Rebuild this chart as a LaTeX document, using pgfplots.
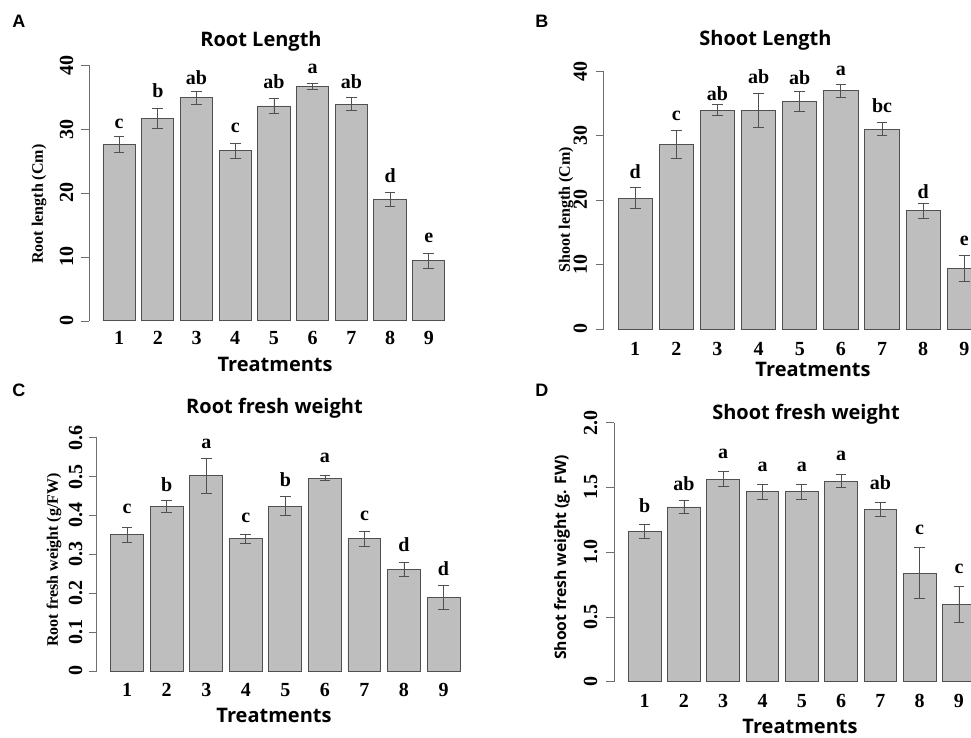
\documentclass[border=0pt]{standalone}
\usepackage{pgfplots}
\pgfplotsset{compat=1.18}
\usepackage{fontspec}
\setmainfont{Liberation Serif}
\newfontfamily\osans{Open Sans}
\newfontfamily\lsans{Liberation Sans}
\definecolor{barfill}{RGB}{190,190,190}
\definecolor{baredge}{RGB}{80,80,80}
\definecolor{axgray}{RGB}{110,110,110}
\pgfplotsset{
  panel/.style={
    scale only axis,
    xmin=0.23, xmax=9.77,
    axis x line*=bottom, axis y line*=left,
    x axis line style={draw=none}, y axis line style={draw=none},
    xtick={1,2,3,4,5,6,7,8,9},
    xticklabels={1,2,3,4,5,6,7,8,9},
    xtick style={draw=none},
    ytick style={axgray, line width=0.6pt},
    tick align=outside, major tick length=6pt,
    xticklabel style={font=\fontsize{15}{17}\selectfont\bfseries, anchor=base},
    clip=false,
    title style={font=\osans\bfseries\fontsize{15}{18}\selectfont, anchor=base, yshift=-6pt},
    xlabel style={font=\osans\bfseries\fontsize{15}{18}\selectfont, anchor=base},
    ylabel style={font=\fontsize{12}{14}\selectfont\bfseries, anchor=base},
    xlabel={Treatments},
  },
  bars/.style={ybar, bar width=0.8333, fill=barfill, draw=baredge, line width=0.7pt,
    error bars/.cd, y dir=both, y explicit,
    error bar style={line width=0.6pt, color=baredge},
    error mark options={rotate=90, line width=0.6pt, color=baredge, mark size=4pt}},
  letters/.style={draw=none, nodes near coords, point meta=explicit symbolic,
    nodes near coords style={anchor=base, inner sep=0pt, font=\fontsize{15}{17}\selectfont\bfseries}},
}
\begin{document}
\begin{tikzpicture}
\begin{scope}
\clip (0pt,0pt) rectangle (728.25pt,553.5pt);

% Panel letters
\node[anchor=base west, inner sep=0pt, font=\lsans\bfseries\fontsize{13.5}{16}\selectfont] at (9pt,532.5pt) {A};
\node[anchor=base west, inner sep=0pt, font=\lsans\bfseries\fontsize{13.5}{16}\selectfont] at (401.25pt,532.5pt) {B};
\node[anchor=base west, inner sep=0pt, font=\lsans\bfseries\fontsize{13.5}{16}\selectfont] at (9pt,255.75pt) {C};
\node[anchor=base west, inner sep=0pt, font=\lsans\bfseries\fontsize{13.5}{16}\selectfont] at (401.25pt,255.75pt) {D};

% ---------------- A ----------------
\begin{axis}[panel,
  at={(66.975pt,305.1pt)}, anchor=south west,
  width=276.975pt, height=207.3pt,
  ymin=-1.6, ymax=41.6,
  ytick={0,10,20,30,40}, yticklabels={0,10,20,30,40},
  xticklabel style={yshift=-4.35pt},
  yticklabel style={xshift=-6.2pt, rotate=90, anchor=base, font=\fontsize{15}{17}\selectfont\bfseries},
  title={Root Length}, title style={at={(axis description cs:0.465,1.0318)}},
  xlabel style={at={(axis description cs:0.503,-0.1476)}},
  ylabel={Root length (Cm)}, ylabel style={at={(axis description cs:-0.1254,0.460)}},
]
\addplot[bars] coordinates {
 (1,27.6) +- (0,1.2) (2,31.7) +- (0,1.55) (3,34.9) +- (0,1.05)
 (4,26.6) +- (0,1.15) (5,33.6) +- (0,1.15) (6,36.7) +- (0,0.5)
 (7,33.9) +- (0,1.0) (8,19.0) +- (0,1.05) (9,9.4) +- (0,1.15)};
\addplot[letters] coordinates {
 (1,30.1) [c] (2,34.9) [b] (3,37.0) [ab] (4,29.5) [c] (5,36.35) [ab]
 (6,38.75) [a] (7,36.4) [ab] (8,21.7) [d] (9,12.3) [e]};
\draw[axgray, line width=0.6pt] (axis cs:0.23,0) -- (axis cs:0.23,40);
\end{axis}

% ---------------- B ----------------
\begin{axis}[panel,
  at={(452.625pt,299.025pt)}, anchor=south west,
  width=294.375pt, height=208.95pt,
  ymin=-1.6, ymax=41.6,
  ytick={0,10,20,30,40}, yticklabels={0,10,20,30,40},
  xticklabel style={yshift=-5.8pt},
  yticklabel style={xshift=-6.4pt, rotate=90, anchor=base, font=\fontsize{15}{17}\selectfont\bfseries},
  title={Shoot Length}, title style={at={(axis description cs:0.4127,1.0528)}},
  xlabel style={at={(axis description cs:0.5338,-0.1353)}},
  ylabel={Shoot length (Cm)}, ylabel style={at={(axis description cs:-0.0854,0.4659)}},
]
\addplot[bars] coordinates {
 (1,20.3) +- (0,1.6) (2,28.6) +- (0,2.15) (3,33.95) +- (0,0.8)
 (4,33.95) +- (0,2.65) (5,35.25) +- (0,1.55) (6,36.95) +- (0,1.05)
 (7,31.0) +- (0,1.05) (8,18.3) +- (0,1.2) (9,9.35) +- (0,2.05)};
\addplot[letters] coordinates {
 (1,23.3) [d] (2,32.3) [c] (3,35.45) [ab] (4,38.0) [ab] (5,37.9) [ab]
 (6,39.3) [a] (7,33.5) [bc] (8,20.2) [d] (9,13.0) [e]};
\draw[axgray, line width=0.6pt] (axis cs:0.23,0) -- (axis cs:0.23,40);
\end{axis}

% ---------------- C ----------------
\begin{axis}[panel,
  at={(72.525pt,43.275pt)}, anchor=south west,
  width=282.975pt, height=188.925pt,
  ymin=-0.024, ymax=0.624,
  ytick={0,0.1,0.2,0.3,0.4,0.5,0.6}, yticklabels={0,0.1,0.2,0.3,0.4,0.5,0.6},
  xticklabel style={yshift=-6.5pt},
  yticklabel style={xshift=-5pt, rotate=90, anchor=base, font=\fontsize{15}{17}\selectfont\bfseries},
  title={Root fresh weight}, title style={at={(axis description cs:0.4712,1.0572)}},
  xlabel style={at={(axis description cs:0.4699,-0.1695)}},
  ylabel={Root fresh weight (g/FW)}, ylabel style={at={(axis description cs:-0.1026,0.4776)}},
]
\addplot[bars] coordinates {
 (1,0.350) +- (0,0.02) (2,0.424) +- (0,0.016) (3,0.503) +- (0,0.045)
 (4,0.340) +- (0,0.011) (5,0.424) +- (0,0.025) (6,0.496) +- (0,0.006)
 (7,0.340) +- (0,0.02) (8,0.260) +- (0,0.018) (9,0.189) +- (0,0.03)};
\addplot[letters] coordinates {
 (1,0.404) [c] (2,0.462) [b] (3,0.572) [a] (4,0.381) [c] (5,0.475) [b]
 (6,0.535) [a] (7,0.387) [c] (8,0.307) [d] (9,0.246) [d]};
\draw[axgray, line width=0.6pt] (axis cs:0.23,0) -- (axis cs:0.23,0.6);
\end{axis}

% ---------------- D ----------------
\begin{axis}[panel,
  at={(460.8pt,34.425pt)}, anchor=south west,
  width=281.1pt, height=209.85pt,
  ymin=-0.08, ymax=2.08,
  ytick={0,0.5,1.0,1.5,2.0}, yticklabels={0,0.5,1.0,1.5,2.0},
  xticklabel style={yshift=-5.9pt},
  yticklabel style={xshift=-7pt, rotate=90, anchor=base, font=\fontsize{15}{17}\selectfont\bfseries},
  title={Shoot fresh weight}, title style={at={(axis description cs:0.5112,0.9725)}},
  xlabel style={at={(axis description cs:0.4952,-0.1462)}},
  ylabel={Shoot fresh weight (g. FW)}, ylabel style={at={(axis description cs:-0.1291,0.481)}, font=\osans\bfseries\fontsize{11.8}{14}\selectfont},
]
\addplot[bars] coordinates {
 (1,1.161) +- (0,0.057) (2,1.349) +- (0,0.05) (3,1.565) +- (0,0.056)
 (4,1.465) +- (0,0.06) (5,1.465) +- (0,0.06) (6,1.547) +- (0,0.05)
 (7,1.331) +- (0,0.055) (8,0.837) +- (0,0.197) (9,0.597) +- (0,0.14)};
\addplot[letters] coordinates {
 (1,1.310) [b] (2,1.478) [ab] (3,1.722) [a] (4,1.624) [a] (5,1.624) [a]
 (6,1.707) [a] (7,1.485) [ab] (8,1.135) [c] (9,0.834) [c]};
\draw[axgray, line width=0.6pt] (axis cs:0.23,0) -- (axis cs:0.23,2.0);
\end{axis}
\end{scope}
\pgfresetboundingbox
\path[use as bounding box] (0pt,0pt) rectangle (728.25pt,553.5pt);
\end{tikzpicture}
\end{document}
